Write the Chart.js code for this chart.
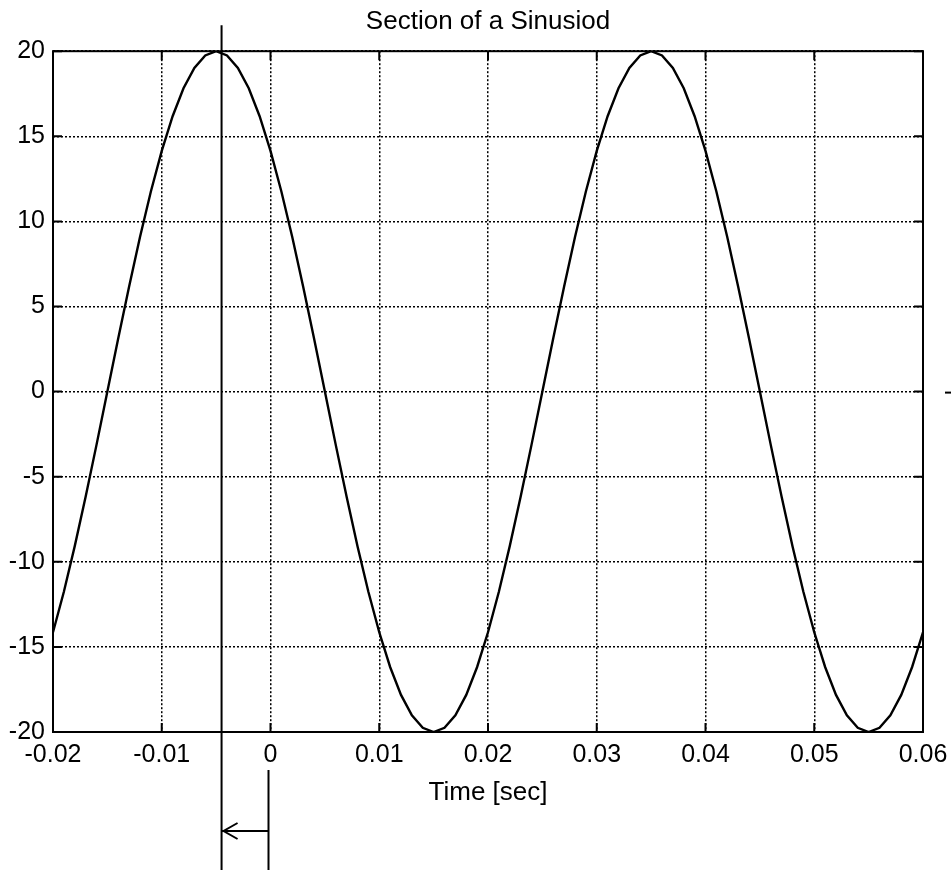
<!DOCTYPE html>
<html>
<head>
<meta charset="utf-8">
<script src="https://cdn.jsdelivr.net/npm/chart.js@4/dist/chart.umd.min.js"></script>
<style>
  body { margin: 0; background: #fff; }
  canvas { display: block; }
</style>
</head>
<body>
<canvas id="myChart" width="951" height="870"></canvas>
<script>
// sample times (sec) and amplitudes
const timeSec = [
  -0.020, -0.019, -0.018, -0.017, -0.016, -0.015, -0.014, -0.013, -0.012, -0.011,
  -0.010, -0.009, -0.008, -0.007, -0.006, -0.005, -0.004, -0.003, -0.002, -0.001,
   0.000,  0.001,  0.002,  0.003,  0.004,  0.005,  0.006,  0.007,  0.008,  0.009,
   0.010,  0.011,  0.012,  0.013,  0.014,  0.015,  0.016,  0.017,  0.018,  0.019,
   0.020,  0.021,  0.022,  0.023,  0.024,  0.025,  0.026,  0.027,  0.028,  0.029,
   0.030,  0.031,  0.032,  0.033,  0.034,  0.035,  0.036,  0.037,  0.038,  0.039,
   0.040,  0.041,  0.042,  0.043,  0.044,  0.045,  0.046,  0.047,  0.048,  0.049,
   0.050,  0.051,  0.052,  0.053,  0.054,  0.055,  0.056,  0.057,  0.058,  0.059,
   0.060
];
const amplitude = [
  -14.14, -11.76,  -9.08,  -6.18,  -3.13,   0.00,   3.13,   6.18,   9.08,  11.76,
   14.14,  16.18,  17.82,  19.02,  19.75,  20.00,  19.75,  19.02,  17.82,  16.18,
   14.14,  11.76,   9.08,   6.18,   3.13,   0.00,  -3.13,  -6.18,  -9.08, -11.76,
  -14.14, -16.18, -17.82, -19.02, -19.75, -20.00, -19.75, -19.02, -17.82, -16.18,
  -14.14, -11.76,  -9.08,  -6.18,  -3.13,   0.00,   3.13,   6.18,   9.08,  11.76,
   14.14,  16.18,  17.82,  19.02,  19.75,  20.00,  19.75,  19.02,  17.82,  16.18,
   14.14,  11.76,   9.08,   6.18,   3.13,   0.00,  -3.13,  -6.18,  -9.08, -11.76,
  -14.14, -16.18, -17.82, -19.02, -19.75, -20.00, -19.75, -19.02, -17.82, -16.18,
  -14.14
];
const xTicks = [-0.02, -0.01, 0, 0.01, 0.02, 0.03, 0.04, 0.05, 0.06];
const xTickLabels = ['-0.02', '-0.01', '0', '0.01', '0.02', '0.03', '0.04', '0.05', '0.06'];
const yTicks = [-20, -15, -10, -5, 0, 5, 10, 15, 20];

// marker lines below the plot: the peak time and t = 0
const peakMarkTime = -0.0045;
const zeroMarkTime = 0;

const points = timeSec.map((t, i) => ({ x: t, y: amplitude[i] }));

// box, inward ticks and the time-shift marker
const frameAndMarkers = {
    id: 'frameAndMarkers',
    afterDraw(chart) {
        const ctx = chart.ctx;
        const area = chart.chartArea;
        const xs = chart.scales.x;
        const ys = chart.scales.y;
        ctx.save();
        ctx.strokeStyle = '#000';
        ctx.lineWidth = 2;
        ctx.strokeRect(area.left, area.top, area.right - area.left, area.bottom - area.top);

        const tickLen = 9;
        ctx.beginPath();
        xTicks.forEach(v => {
            const px = xs.getPixelForValue(v);
            ctx.moveTo(px, area.bottom); ctx.lineTo(px, area.bottom - tickLen);
            ctx.moveTo(px, area.top); ctx.lineTo(px, area.top + tickLen);
        });
        yTicks.forEach(v => {
            const py = ys.getPixelForValue(v);
            ctx.moveTo(area.left, py); ctx.lineTo(area.left + tickLen, py);
            ctx.moveTo(area.right, py); ctx.lineTo(area.right - tickLen, py);
        });
        ctx.stroke();

        // long line through the peak
        const peakX = xs.getPixelForValue(peakMarkTime);
        const zeroX = xs.getPixelForValue(zeroMarkTime) - 2;
        ctx.beginPath();
        ctx.moveTo(peakX, area.top - 26);
        ctx.lineTo(peakX, chart.height);
        ctx.moveTo(zeroX, area.bottom + 38);
        ctx.lineTo(zeroX, chart.height);
        // arrow
        const arrowY = area.bottom + 99;
        ctx.moveTo(zeroX, arrowY);
        ctx.lineTo(peakX + 1, arrowY);
        ctx.moveTo(peakX + 16, arrowY - 8);
        ctx.lineTo(peakX + 2, arrowY);
        ctx.lineTo(peakX + 16, arrowY + 8);
        ctx.stroke();

        // stray dash right of the frame
        const zeroY = ys.getPixelForValue(0);
        ctx.beginPath();
        ctx.moveTo(area.right + 22, zeroY + 1);
        ctx.lineTo(area.right + 28, zeroY + 1);
        ctx.stroke();
        ctx.restore();
    }
};

const ctx = document.getElementById('myChart').getContext('2d');
const myChart = new Chart(ctx, {
    type: 'line',
    data: {
        datasets: [{
            label: 'Sinusoid',
            data: points,
            borderColor: '#000',
            borderWidth: 2.4,
            pointRadius: 0,
            tension: 0,
            fill: false
        }]
    },
    options: {
        responsive: false,
        animation: false,
        layout: { padding: { left: 0, right: 28, top: 0, bottom: 0 } },
        plugins: {
            legend: { display: false },
            tooltip: { enabled: false },
            title: {
                display: true,
                fullSize: false,
                text: 'Section of a Sinusiod',
                color: '#000',
                font: { family: 'Liberation Sans, Arial, sans-serif', size: 26, weight: 'normal' },
                padding: { top: 6, bottom: 14 }
            }
        },
        scales: {
            x: {
                type: 'linear',
                min: -0.02,
                max: 0.06,
                afterBuildTicks: scale => { scale.ticks = xTicks.map(v => ({ value: v })); },
                afterFit: scale => {
                    scale.height = 138;
                    scale.paddingLeft = 0;
                    scale.paddingRight = 0;
                },
                ticks: {
                    color: '#000',
                    padding: 8,
                    maxRotation: 0,
                    font: { family: 'Liberation Sans, Arial, sans-serif', size: 25 },
                    callback: (value, index) => xTickLabels[index]
                },
                grid: { color: '#000', lineWidth: 1.5, drawTicks: false },
                border: { display: false, dash: [2, 2] },
                title: {
                    display: true,
                    text: 'Time [sec]',
                    color: '#000',
                    font: { family: 'Liberation Sans, Arial, sans-serif', size: 26 },
                    padding: { top: 0, bottom: 62 }
                }
            },
            y: {
                min: -20,
                max: 20,
                afterBuildTicks: scale => { scale.ticks = yTicks.map(v => ({ value: v })); },
                afterFit: scale => { scale.width = 53; },
                ticks: {
                    color: '#000',
                    padding: 8,
                    font: { family: 'Liberation Sans, Arial, sans-serif', size: 25 }
                },
                grid: { color: '#000', lineWidth: 1.5, drawTicks: false },
                border: { display: false, dash: [2, 2] }
            }
        }
    },
    plugins: [frameAndMarkers]
});
</script>
</body>
</html>
